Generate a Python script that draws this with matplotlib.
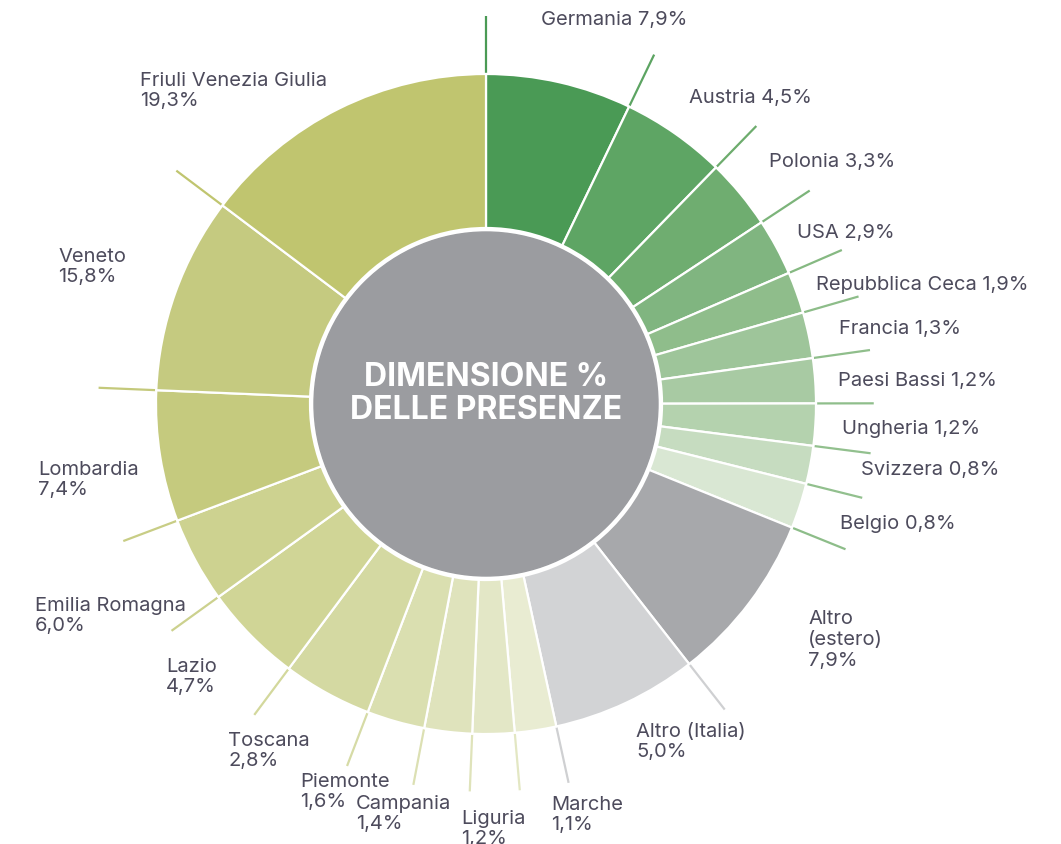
import matplotlib.pyplot as plt
import numpy as np

# slices in clockwise order starting at 12 o'clock
names = ["Germania", "Austria", "Polonia", "USA", "Repubblica Ceca", "Francia",
         "Paesi Bassi", "Ungheria", "Svizzera", "Belgio", "Altro\n(estero)",
         "Altro (Italia)", "Marche", "Liguria", "Campania", "Piemonte", "Toscana",
         "Lazio", "Emilia Romagna", "Lombardia", "Veneto", "Friuli Venezia Giulia"]
pct = [7.9, 4.5, 3.3, 2.9, 1.9, 1.3, 1.2, 1.2, 0.8, 0.8, 7.9,
       5.0, 1.1, 1.2, 1.4, 1.6, 2.8, 4.7, 6.0, 7.4, 15.8, 19.3]
# angular size of each slice as drawn in the original (degrees)
spans = [25.7, 18.5, 12.4, 10.0, 7.3, 8.1, 7.9, 7.4, 6.7, 8.0, 30.0,
         25.7, 7.3, 7.4, 8.4, 10.2, 15.7, 17.5, 15.1, 23.1, 34.6, 53.0]

colors = ["#4a9a55", "#5ea564", "#6fad70", "#80b580", "#8fbd8b", "#9ec59a",
          "#a8caa3", "#b4d2ae", "#c6dcc0", "#d9e7d3", "#a7a8ab",
          "#d2d3d5", "#e9ecd2", "#e3e7c6", "#dfe3bc", "#dadfb0", "#d4d9a2",
          "#d0d596", "#cdd290", "#c5ca7e", "#c5ca80", "#c0c56f"]
# colour of the leader line drawn on each slice boundary (start edge)
edge_colors = ["#4a9a55", "#5ca462", "#6dac6d", "#7cb47a", "#86b982", "#8dbd89",
               "#8fbe8b", "#8fbe8b", "#92c08e", "#92c08e", "#8dbd89",
               "#cfd0d2", "#cfd0d2", "#e3e7c3", "#dfe3ba", "#dce0b3", "#d6dba6",
               "#d3d89c", "#ccd18e", "#c8cd85", "#c4c97b", "#c0c56f"]

# label anchors in pixels (left edge, vertical centre of the text block)
label_px = [(541, 20), (689, 98), (769, 162), (797, 233), (816, 285), (839, 329),
            (838, 381), (842, 429), (861, 470), (840, 524), (808, 640),
            (636, 742), (551, 815), (461, 829), (356, 814), (300, 792), (228, 751),
            (166, 677), (35, 616), (38, 480), (58, 267), (140, 91)]

W, H = 1061, 844
CX, CY, R = 486, 404, 330.0
text_col = "#4d4b5c"
plt.rcParams['font.family'] = ['Inter', 'DejaVu Sans']

fig = plt.figure(figsize=(W / 100, H / 100), dpi=100)
ax = fig.add_axes([0, 0, 1, 1])

# leader lines along slice boundaries
bounds = 90 - np.concatenate([[0], np.cumsum(spans)[:-1]])
for a, c in zip(bounds, edge_colors):
    t = np.radians(a)
    ax.plot([np.cos(t), 1.175 * np.cos(t)], [np.sin(t), 1.175 * np.sin(t)],
            color=c, lw=1.6, solid_capstyle='butt', zorder=1)

ax.pie(spans, colors=colors, startangle=90, counterclock=False, radius=1.0,
       wedgeprops=dict(width=1 - 176 / R, edgecolor='white', linewidth=1.6))

ax.add_patch(plt.Circle((0, 0), 172 / R, color="#9b9ca0", zorder=5))
ax.text(0, 0.03, "DIMENSIONE %\nDELLE PRESENZE", ha='center', va='center',
        fontsize=23, fontweight='bold', color='white', linespacing=1.1, zorder=6)

for i, (name, p, (px, py)) in enumerate(zip(names, pct, label_px)):
    val = ("%.1f%%" % p).replace(".", ",")
    sep = " " if i < 10 else "\n"
    ax.text((px - CX) / R, (CY - py) / R, name + sep + val, ha='left', va='center',
            fontsize=14.5, color=text_col, linespacing=1.2)

# pie() resets the limits, so set them afterwards
ax.set_xlim(-CX / R, (W - CX) / R)
ax.set_ylim((CY - H) / R, CY / R)
ax.set_aspect('equal')
ax.axis('off')

fig.savefig("out.png", dpi=100)
